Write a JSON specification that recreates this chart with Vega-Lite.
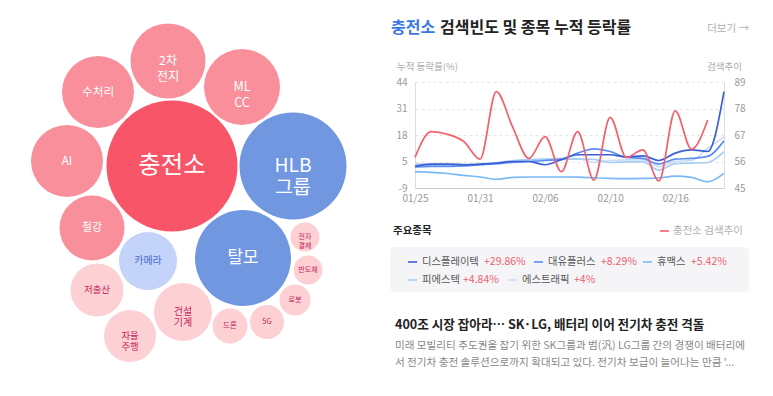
{
"$schema":"https://vega.github.io/schema/vega-lite/v6.json",
"padding":0,"spacing":10,"background":"white",
"config":{"view":{"stroke":null},"font":"Noto Sans CJK KR"},
"datasets":{
"bubbles":[
{"n":"충전소","x":172,"y":166,"d":131,"tier":"main"},
{"n":"HLB\n그룹","x":293,"y":166,"d":107,"tier":"up"},
{"n":"2차\n전지","x":168,"y":61,"d":75,"tier":"hot"},
{"n":"수처리","x":98,"y":92,"d":72,"tier":"hot"},
{"n":"ML\nCC","x":242,"y":87,"d":76,"tier":"hot"},
{"n":"AI","x":67,"y":161,"d":72,"tier":"hot"},
{"n":"철강","x":92,"y":228,"d":65,"tier":"hot"},
{"n":"카메라","x":148,"y":261,"d":58,"tier":"uplite"},
{"n":"탈모","x":243,"y":258,"d":96,"tier":"up"},
{"n":"전자\n결제","x":305,"y":237,"d":29,"tier":"warm"},
{"n":"반도체","x":308,"y":270,"d":29,"tier":"warm"},
{"n":"로봇","x":295,"y":300,"d":31,"tier":"warm"},
{"n":"저출산","x":97,"y":290,"d":53,"tier":"warm"},
{"n":"건설\n기계","x":183,"y":312,"d":58,"tier":"warm"},
{"n":"드론","x":230,"y":326,"d":35,"tier":"warm"},
{"n":"5G","x":267,"y":322,"d":34,"tier":"warm"},
{"n":"자율\n주행","x":130,"y":336,"d":52,"tier":"warm"}
],
"search":[
{"d":"01/25","q":57.7},{"d":"01/26","q":68.4},{"d":"01/27","q":67.3},{"d":"01/30","q":64.3},{"d":"01/31","q":57.0},{"d":"02/01","q":85.0},{"d":"02/02","q":70.4},{"d":"02/03","q":57.3},{"d":"02/06","q":66.3},{"d":"02/07","q":51.8},{"d":"02/08","q":68.4},{"d":"02/09","q":48.3},{"d":"02/10","q":74.3},{"d":"02/13","q":57.7},{"d":"02/14","q":60.8},{"d":"02/15","q":47.9},{"d":"02/16","q":77.0},{"d":"02/17","q":61.1},{"d":"02/20","q":73.2}
],
"stocks":[
{"d":"01/25","s":"에스트래픽","v":4.0},{"d":"01/26","s":"에스트래픽","v":3.8},{"d":"01/27","s":"에스트래픽","v":3.6},{"d":"01/30","s":"에스트래픽","v":3.6},{"d":"01/31","s":"에스트래픽","v":3.8},{"d":"02/01","s":"에스트래픽","v":4.4},{"d":"02/02","s":"에스트래픽","v":5.5},{"d":"02/03","s":"에스트래픽","v":6.0},{"d":"02/06","s":"에스트래픽","v":6.3},{"d":"02/07","s":"에스트래픽","v":6.5},{"d":"02/08","s":"에스트래픽","v":6.5},{"d":"02/09","s":"에스트래픽","v":4.5},{"d":"02/10","s":"에스트래픽","v":5.5},{"d":"02/13","s":"에스트래픽","v":5.8},{"d":"02/14","s":"에스트래픽","v":5.8},{"d":"02/15","s":"에스트래픽","v":2.5},{"d":"02/16","s":"에스트래픽","v":5.0},{"d":"02/17","s":"에스트래픽","v":5.5},{"d":"02/20","s":"에스트래픽","v":11.5},{"d":"02/21","s":"에스트래픽","v":17.0},
{"d":"01/25","s":"피에스텍","v":3.3},{"d":"01/26","s":"피에스텍","v":3.0},{"d":"01/27","s":"피에스텍","v":2.8},{"d":"01/30","s":"피에스텍","v":3.0},{"d":"01/31","s":"피에스텍","v":3.5},{"d":"02/01","s":"피에스텍","v":4.0},{"d":"02/02","s":"피에스텍","v":5.2},{"d":"02/03","s":"피에스텍","v":5.8},{"d":"02/06","s":"피에스텍","v":6.0},{"d":"02/07","s":"피에스텍","v":6.0},{"d":"02/08","s":"피에스텍","v":6.2},{"d":"02/09","s":"피에스텍","v":6.0},{"d":"02/10","s":"피에스텍","v":4.5},{"d":"02/13","s":"피에스텍","v":4.8},{"d":"02/14","s":"피에스텍","v":4.8},{"d":"02/15","s":"피에스텍","v":0.8},{"d":"02/16","s":"피에스텍","v":4.0},{"d":"02/17","s":"피에스텍","v":4.2},{"d":"02/20","s":"피에스텍","v":4.5},{"d":"02/21","s":"피에스텍","v":9.8},
{"d":"01/25","s":"휴맥스","v":0.0},{"d":"01/26","s":"휴맥스","v":-0.3},{"d":"01/27","s":"휴맥스","v":-0.9},{"d":"01/30","s":"휴맥스","v":-1.8},{"d":"01/31","s":"휴맥스","v":-2.6},{"d":"02/01","s":"휴맥스","v":-3.7},{"d":"02/02","s":"휴맥스","v":-2.8},{"d":"02/03","s":"휴맥스","v":-2.6},{"d":"02/06","s":"휴맥스","v":-2.6},{"d":"02/07","s":"휴맥스","v":-2.6},{"d":"02/08","s":"휴맥스","v":-2.7},{"d":"02/09","s":"휴맥스","v":-3.0},{"d":"02/10","s":"휴맥스","v":-3.3},{"d":"02/13","s":"휴맥스","v":-3.4},{"d":"02/14","s":"휴맥스","v":-3.3},{"d":"02/15","s":"휴맥스","v":-3.0},{"d":"02/16","s":"휴맥스","v":-2.2},{"d":"02/17","s":"휴맥스","v":-2.8},{"d":"02/20","s":"휴맥스","v":-4.9},{"d":"02/21","s":"휴맥스","v":-0.8},
{"d":"01/25","s":"대유플러스","v":2.3},{"d":"01/26","s":"대유플러스","v":2.6},{"d":"01/27","s":"대유플러스","v":2.6},{"d":"01/30","s":"대유플러스","v":2.9},{"d":"01/31","s":"대유플러스","v":3.4},{"d":"02/01","s":"대유플러스","v":3.9},{"d":"02/02","s":"대유플러스","v":4.6},{"d":"02/03","s":"대유플러스","v":5.0},{"d":"02/06","s":"대유플러스","v":5.5},{"d":"02/07","s":"대유플러스","v":6.2},{"d":"02/08","s":"대유플러스","v":9.1},{"d":"02/09","s":"대유플러스","v":11.2},{"d":"02/10","s":"대유플러스","v":9.9},{"d":"02/13","s":"대유플러스","v":7.0},{"d":"02/14","s":"대유플러스","v":6.5},{"d":"02/15","s":"대유플러스","v":3.8},{"d":"02/16","s":"대유플러스","v":6.2},{"d":"02/17","s":"대유플러스","v":6.5},{"d":"02/20","s":"대유플러스","v":7.5},{"d":"02/21","s":"대유플러스","v":15.2},
{"d":"01/25","s":"디스플레이텍","v":2.6},{"d":"01/26","s":"디스플레이텍","v":3.7},{"d":"01/27","s":"디스플레이텍","v":3.7},{"d":"01/30","s":"디스플레이텍","v":3.4},{"d":"01/31","s":"디스플레이텍","v":3.7},{"d":"02/01","s":"디스플레이텍","v":4.2},{"d":"02/02","s":"디스플레이텍","v":5.0},{"d":"02/03","s":"디스플레이텍","v":5.0},{"d":"02/06","s":"디스플레이텍","v":3.4},{"d":"02/07","s":"디스플레이텍","v":5.9},{"d":"02/08","s":"디스플레이텍","v":8.3},{"d":"02/09","s":"디스플레이텍","v":8.3},{"d":"02/10","s":"디스플레이텍","v":8.3},{"d":"02/13","s":"디스플레이텍","v":7.2},{"d":"02/14","s":"디스플레이텍","v":7.8},{"d":"02/15","s":"디스플레이텍","v":5.5},{"d":"02/16","s":"디스플레이텍","v":9.1},{"d":"02/17","s":"디스플레이텍","v":10.7},{"d":"02/20","s":"디스플레이텍","v":9.9},{"d":"02/21","s":"디스플레이텍","v":39.3}
]
},
"hconcat":[
{
"width":380,"height":314,
"data":{"name":"bubbles"},
"layer":[
{"mark":{"type":"circle","opacity":1},
"encoding":{
"x":{"field":"x","type":"quantitative","scale":{"domain":[0,380],"nice":false,"zero":false},"axis":null},
"y":{"field":"y","type":"quantitative","scale":{"domain":[0,396],"range":[-82,314],"nice":false,"zero":false},"axis":null},
"size":{"field":"d","type":"quantitative","scale":{"type":"pow","exponent":2,"domain":[0,100],"range":[0,10000]},"legend":null},
"color":{"field":"tier","type":"nominal","scale":{"domain":["main","hot","warm","up","uplite"],"range":["#f95568","#f98f9b","#fdd0d4","#7197e1","#c3d3fa"]},"legend":null}
}},
{"mark":{"type":"text","lineBreak":"\n","baseline":"middle","align":"center","lineHeight":{"expr":"datum.d > 100 ? 22 : datum.d > 70 ? 15.7 : datum.d > 40 ? 11 : 8.5"}},
"encoding":{
"x":{"field":"x","type":"quantitative"},
"y":{"field":"y","type":"quantitative"},
"text":{"field":"n"},
"size":{"field":"d","type":"quantitative","scale":{"type":"linear","domain":[29,58,72,131],"range":[7,10,11.7,24.4]},"legend":null},
"color":{"field":"tier","type":"nominal","scale":{"domain":["main","hot","warm","up","uplite"],"range":["#ffffff","#ffffff","#c4245a","#ffffff","#4a6ccc"]},"legend":null}
}}
],
"resolve":{"scale":{"size":"independent","color":"independent"}}
},
{
"width":309,"height":106,
"layer":[
{"data":{"values":[{}]},"mark":{"type":"rect","x":-25,"x2":358,"y":-82,"y2":314,"fill":"#ffffff","opacity":0}},
{"data":{"values":[{}]},"mark":{"type":"rect","x":-25,"x2":334,"y":165,"y2":210,"fill":"#f5f5f7","cornerRadius":5}},
{"data":{"name":"stocks"},
"mark":{"type":"line","interpolate":"monotone","strokeWidth":1.7},
"encoding":{
"x":{"field":"d","type":"ordinal","sort":"ascending","scale":{"type":"point","padding":0},"axis":{"values":["01/25","01/31","02/06","02/10","02/16"],"labelAngle":0,"title":null,"ticks":false,"domainColor":"#cccccc","labelColor":"#999999","labelFontSize":10,"labelPadding":5,"grid":false}},
"y":{"field":"v","type":"quantitative","scale":{"domain":[-8,44],"nice":false,"zero":false},"axis":{"values":[44,31,18,5,-8],"labelExpr":"datum.value == -8 ? '-9' : datum.label","title":null,"ticks":false,"domainColor":"#dddddd","grid":true,"gridDash":[3,3],"gridColor":"#e6e6e6","labelColor":"#999999","labelFontSize":10,"labelPadding":8}},
"color":{"field":"s","type":"nominal","scale":{"domain":["에스트래픽","피에스텍","휴맥스","대유플러스","디스플레이텍"],"range":["#c9def4","#a6cdf2","#7ab9f6","#5b8ef2","#3b5fd4"]},"legend":null}
}},
{"data":{"name":"search"},
"mark":{"type":"line","interpolate":"monotone","strokeWidth":1.7,"color":"#f3606c"},
"encoding":{
"x":{"field":"d","type":"ordinal","sort":"ascending"},
"y":{"field":"q","type":"quantitative","scale":{"domain":[45,89],"nice":false,"zero":false},"axis":{"orient":"right","values":[89,78,67,56,45],"title":null,"ticks":false,"grid":false,"domainColor":"#dddddd","labelColor":"#999999","labelFontSize":10,"labelPadding":10}}
}},
{"data":{"values":[{"t":"충전소"}]},"mark":{"type":"text","x":-24,"y":-54,"align":"left","baseline":"middle","fontSize":16,"fontWeight":"bold","color":"#3b78e7"},"encoding":{"text":{"field":"t"}}},
{"data":{"values":[{"t":"검색빈도 및 종목 누적 등락률"}]},"mark":{"type":"text","x":25,"y":-54,"align":"left","baseline":"middle","fontSize":16,"fontWeight":"bold","color":"#222222"},"encoding":{"text":{"field":"t"}}},
{"data":{"values":[{"t":"더보기 →"}]},"mark":{"type":"text","x":334,"y":-53,"align":"right","baseline":"middle","fontSize":10.5,"color":"#b0b0b0"},"encoding":{"text":{"field":"t"}}},
{"data":{"values":[{"t":"누적 등락률(%)"}]},"mark":{"type":"text","x":-18,"y":-15,"align":"left","baseline":"middle","fontSize":9.5,"color":"#aaaaaa"},"encoding":{"text":{"field":"t"}}},
{"data":{"values":[{"t":"검색추이"}]},"mark":{"type":"text","x":327,"y":-15,"align":"right","baseline":"middle","fontSize":9.5,"color":"#aaaaaa"},"encoding":{"text":{"field":"t"}}},
{"data":{"values":[{"t":"주요종목"}]},"mark":{"type":"text","x":-22,"y":149,"align":"left","baseline":"middle","fontSize":10.5,"fontWeight":"bold","color":"#222222"},"encoding":{"text":{"field":"t"}}},
{"data":{"values":[{}]},"mark":{"type":"rect","x":245,"x2":254,"y":148,"y2":150,"color":"#f3808a"}},
{"data":{"values":[{"t":"충전소 검색추이"}]},"mark":{"type":"text","x":258,"y":149,"align":"left","baseline":"middle","fontSize":10.5,"color":"#b0b0b0"},"encoding":{"text":{"field":"t"}}},
{"data":{"values":[{}]},"mark":{"type":"rect","x":-7,"x2":2,"y":179.2,"y2":180.8,"color":"#3b5fd4"}},
{"data":{"values":[{}]},"mark":{"type":"rect","x":119,"x2":128,"y":179.2,"y2":180.8,"color":"#5b8ef2"}},
{"data":{"values":[{}]},"mark":{"type":"rect","x":228,"x2":237,"y":179.2,"y2":180.8,"color":"#7ab9f6"}},
{"data":{"values":[{}]},"mark":{"type":"rect","x":-7,"x2":2,"y":197.2,"y2":198.8,"color":"#a6cdf2"}},
{"data":{"values":[{}]},"mark":{"type":"rect","x":93,"x2":102,"y":197.2,"y2":198.8,"color":"#c9def4"}},
{"data":{"values":[{"t":"디스플레이텍"}]},"mark":{"type":"text","x":7,"y":180,"align":"left","baseline":"middle","fontSize":10.3,"color":"#555555"},"encoding":{"text":{"field":"t"}}},
{"data":{"values":[{"t":"+29.86%"}]},"mark":{"type":"text","x":69,"y":180,"align":"left","baseline":"middle","fontSize":10.5,"color":"#f0606b"},"encoding":{"text":{"field":"t"}}},
{"data":{"values":[{"t":"대유플러스"}]},"mark":{"type":"text","x":133,"y":180,"align":"left","baseline":"middle","fontSize":10.3,"color":"#555555"},"encoding":{"text":{"field":"t"}}},
{"data":{"values":[{"t":"+8.29%"}]},"mark":{"type":"text","x":186,"y":180,"align":"left","baseline":"middle","fontSize":10.5,"color":"#f0606b"},"encoding":{"text":{"field":"t"}}},
{"data":{"values":[{"t":"휴맥스"}]},"mark":{"type":"text","x":242,"y":180,"align":"left","baseline":"middle","fontSize":10.3,"color":"#555555"},"encoding":{"text":{"field":"t"}}},
{"data":{"values":[{"t":"+5.42%"}]},"mark":{"type":"text","x":276,"y":180,"align":"left","baseline":"middle","fontSize":10.5,"color":"#f0606b"},"encoding":{"text":{"field":"t"}}},
{"data":{"values":[{"t":"피에스텍"}]},"mark":{"type":"text","x":7,"y":198,"align":"left","baseline":"middle","fontSize":10.3,"color":"#555555"},"encoding":{"text":{"field":"t"}}},
{"data":{"values":[{"t":"+4.84%"}]},"mark":{"type":"text","x":48,"y":198,"align":"left","baseline":"middle","fontSize":10.5,"color":"#f0606b"},"encoding":{"text":{"field":"t"}}},
{"data":{"values":[{"t":"에스트래픽"}]},"mark":{"type":"text","x":107,"y":198,"align":"left","baseline":"middle","fontSize":10.3,"color":"#555555"},"encoding":{"text":{"field":"t"}}},
{"data":{"values":[{"t":"+4%"}]},"mark":{"type":"text","x":159,"y":198,"align":"left","baseline":"middle","fontSize":10.5,"color":"#f0606b"},"encoding":{"text":{"field":"t"}}},
{"data":{"values":[{"t":"400조 시장 잡아라… SK·LG, 배터리 이어 전기차 충전 격돌"}]},"mark":{"type":"text","x":-20,"y":243,"align":"left","baseline":"middle","fontSize":12.6,"fontWeight":"bold","color":"#222222"},"encoding":{"text":{"field":"t"}}},
{"data":{"values":[{"t":"미래 모빌리티 주도권을 잡기 위한 SK그룹과 범(汎) LG그룹 간의 경쟁이 배터리에"}]},"mark":{"type":"text","x":-20,"y":264,"align":"left","baseline":"middle","fontSize":10.6,"color":"#888888"},"encoding":{"text":{"field":"t"}}},
{"data":{"values":[{"t":"서 전기차 충전 솔루션으로까지 확대되고 있다. 전기차 보급이 늘어나는 만큼 '..."}]},"mark":{"type":"text","x":-20,"y":281,"align":"left","baseline":"middle","fontSize":10.6,"color":"#888888"},"encoding":{"text":{"field":"t"}}}
],
"resolve":{"scale":{"y":"independent","color":"independent"}}
}
]
}
